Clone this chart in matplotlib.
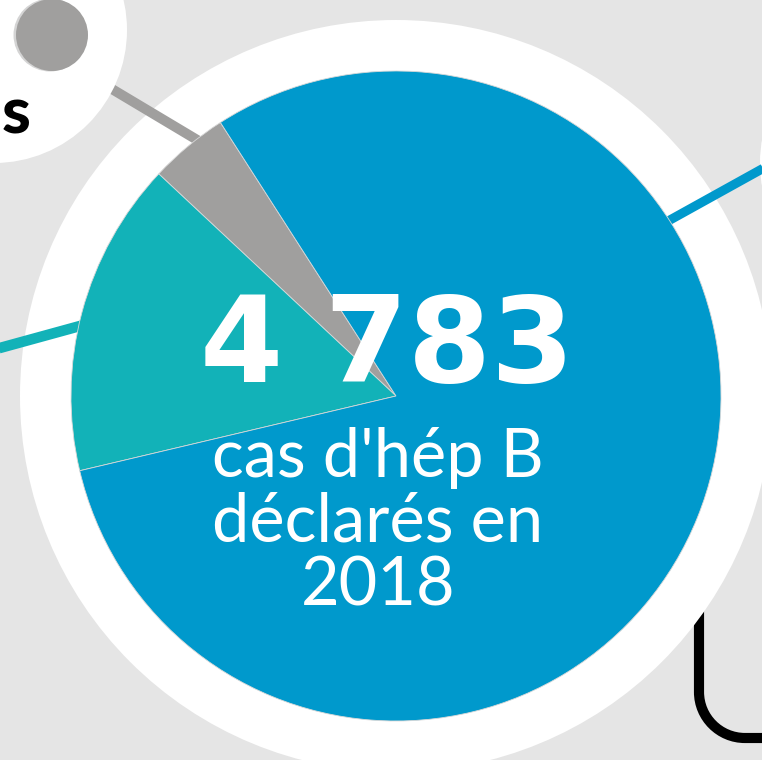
import matplotlib
matplotlib.use("Agg")
import matplotlib.pyplot as plt
from matplotlib.patches import Circle, PathPatch
from matplotlib.path import Path

# ---- data ----
categories = ["gris", "turquoise", "bleu"]
shares = [3.94, 15.67, 80.39]          # % of the 4 783 declared cases
slice_colors = ["#a09f9e", "#12b2b8", "#0099cc"]
total_label = "4 783"
caption_lines = ["cas d'hép B", "déclarés en", "2018"]
side_label = "s"

BG = "#e5e5e5"
W, H = 762, 760


def Y(y):
    """pixel row (top-down) -> data y (bottom-up)"""
    return H - y


fig = plt.figure(figsize=(7.62, 7.60), dpi=100)
fig.patch.set_facecolor(BG)
ax = fig.add_axes([0, 0, 1, 1])
ax.set_facecolor(BG)

cx, cy = 396, 396

# black connector bottom-right (drawn below the white ring)
k = 0.5523 * 46
verts = [(699, 560), (699, 692), (699, 692 + k), (745 - k, 738), (745, 738), (820, 738)]
codes = [Path.MOVETO, Path.LINETO, Path.CURVE4, Path.CURVE4, Path.CURVE4, Path.LINETO]
ax.add_patch(PathPatch(Path([(x, Y(y)) for x, y in verts], codes), fill=False,
                       edgecolor="black", linewidth=7.3, capstyle="butt", zorder=1))

# white rings / circles
ax.add_patch(Circle((cx, Y(cy)), 376, facecolor="white", edgecolor="none", zorder=2))
ax.add_patch(Circle((895, Y(163)), 135, facecolor="white", edgecolor="none", zorder=2))

# connector lines
ax.plot([60, 215], [Y(58), Y(150.6)], color="#a09f9e", lw=7.2, solid_capstyle="butt", zorder=3)
ax.plot([-10, 100], [Y(350.7), Y(320.5)], color="#12b2b8", lw=7.6, solid_capstyle="butt", zorder=3)
ax.plot([640, 800], [Y(236.6), Y(147.9)], color="#0099cc", lw=6.6, solid_capstyle="butt", zorder=3)

# top-left white circle with grey dot
ax.add_patch(Circle((-6, Y(30)), 133, facecolor="white", edgecolor="none", zorder=4))
ax.add_patch(Circle((50, Y(35)), 36.5, facecolor="#d4d4d4", edgecolor="none", zorder=5))
ax.add_patch(Circle((52, Y(35)), 36, facecolor="#a09f9e", edgecolor="none", zorder=6))

# pie
wedges, _ = ax.pie(shares, colors=slice_colors, startangle=122.7, counterclock=True,
                   center=(cx, Y(cy)), radius=325,
                   wedgeprops=dict(linewidth=0.6, edgecolor="#d8d8d8"))
for w in wedges:
    w.set_zorder(7)

# texts
ax.text(387.5, Y(382), total_label, color="white", fontsize=86, fontweight="bold",
        family=["DejaVu Sans"], ha="center", va="baseline", zorder=10)
for line, base in zip(caption_lines, [477, 542, 606]):
    ax.text(378, Y(base), line, color="white", fontsize=48,
            family=["Lato", "DejaVu Sans"], ha="center", va="baseline", zorder=10)
ax.text(16.5, Y(133), side_label, color="black", fontsize=47, fontweight="black",
        family=["Lato", "DejaVu Sans"], ha="center", va="baseline", zorder=10)

ax.set_xlim(0, W)
ax.set_ylim(0, H)
ax.set_aspect("equal")
ax.axis("off")

fig.savefig("out.png", dpi=100, facecolor=BG)
